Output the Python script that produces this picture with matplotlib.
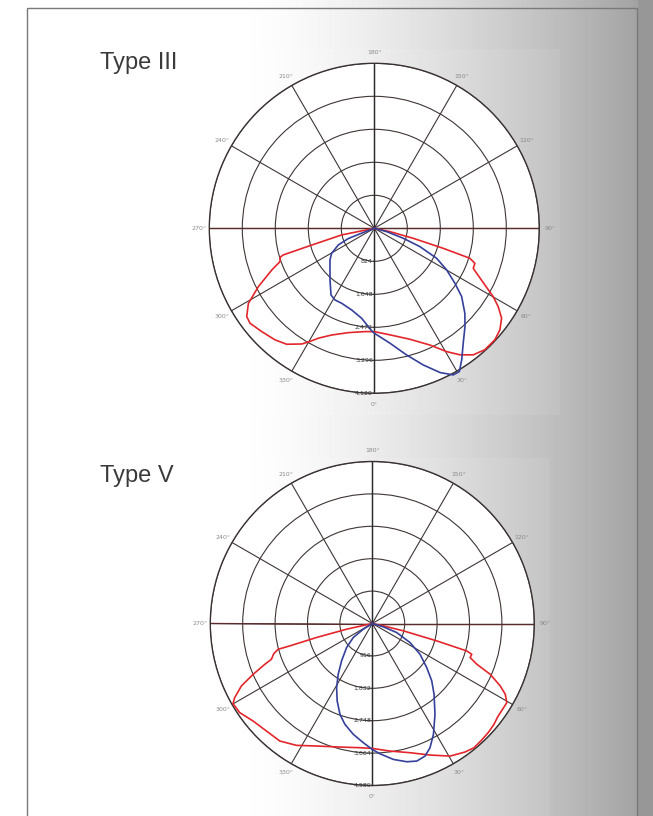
import numpy as np
import matplotlib.pyplot as plt
from matplotlib.patches import Rectangle

# angles as printed on the chart: 0 at the bottom, 90 on the right, 270 on the left
red3_deg = [280, 281.5, 285, 286.3, 287.1, 289.5, 292.1, 296.7, 300.8, 304.7,
            307.4, 312.5, 318.3, 322.9, 327.9, 330.4, 333, 338.2, 346, 354.8,
            0, 8.4, 17.8, 25.5, 30.4, 34.1, 38, 42.3, 47.2, 51,
            54.8, 57.7, 60.1, 62.9, 66.3, 68, 70.8, 72.6, 73.8, 75.6, 78, 80]
red3_cd = [0, 830, 1620, 2370, 2460, 2500, 2760, 3240, 3660, 3875,
           3905, 3815, 3730, 3630, 3410, 3250, 3080, 2870, 2685, 2590,
           2580, 2690, 2910, 3230, 3570, 3815, 4010, 4100, 4100, 4035,
           3890, 3660, 3425, 3100, 2790, 2665, 2660, 2500, 1795, 1005, 400, 0]

blue3_deg = [290, 291, 291.5, 294.8, 300.4, 305.5, 319.4, 327, 331.2, 336.5,
             344.5, 352, 358.5, 0, 7.8, 14.3, 19.7, 24.5, 28.3, 30.7,
             33.6, 37.7, 42.7, 46.8, 52, 55.7, 60.1, 64.3, 68.1, 71, 74.9, 76]
blue3_cd = [0, 340, 695, 990, 1235, 1360, 1700, 1985, 2041, 2042,
            2116, 2269, 2560, 2620, 2897, 3264, 3624, 3958, 4158, 4160,
            3944, 3630, 3339, 3102, 2768, 2437, 2084, 1727, 1228, 766, 319, 0]

red5_deg = [282, 282.5, 284.1, 285.2, 285.3, 287, 289.5, 290.8, 293.1, 295.5,
            298.3, 299.9, 303.9, 309.3, 315.4, 321.8, 328.1, 335.5, 345.3, 354.3,
            0, 7.9, 16.3, 23.7, 30.4, 35.8, 39.3, 43, 46.8, 50.2,
            53.3, 56, 59.5, 62, 64, 66.7, 68.7, 70.8, 72.8, 73.8,
            74.9, 76.7, 78, 80]
red5_cd = [0, 745, 1626, 2416, 2760, 2912, 3025, 3250, 3663, 4100,
           4418, 4543, 4517, 4354, 4266, 4228, 4058, 3806, 3611, 3529,
           3531, 3641, 3806, 4062, 4346, 4480, 4540, 4520, 4500, 4470,
           4420, 4410, 4414, 4257, 4024, 3628, 3172, 2929, 2944, 2782,
           1887, 902, 318, 0]

blue5_deg = [300, 302.2, 306.4, 313.1, 320.6, 326.1, 330.9, 335.6, 340.4, 344.8,
             350.3, 355.7, 0, 3.4, 8.8, 14, 17.9, 21.7, 24.9, 28.9,
             34.6, 41.1, 46, 51, 57.2, 63.2, 69.7, 73.1, 75]
blue5_cd = [0, 301, 668, 995, 1368, 1728, 2075, 2404, 2726, 2954,
            3180, 3380, 3560, 3690, 3888, 4028, 4088, 4034, 3873, 3578,
            3121, 2656, 2337, 1980, 1605, 1195, 735, 326, 0]

rings3 = [824, 1648, 2472, 3296, 4120]
ring_labels3 = ['824', '1,648', '2,472', '3,296', '4,120']
rings5 = [916, 1832, 2748, 3664, 4580]
ring_labels5 = ['916', '1,832', '2,748', '3,664', '4,580']
angle_ticks = list(range(0, 360, 30))

W, H = 653, 816
fig = plt.figure(figsize=(W / 100, H / 100), dpi=100)

# page background: white on the left fading to grey on the right
bg = fig.add_axes([0, 0, 1, 1])
x = np.arange(W)
t = np.clip((x - 230) / (637 - 230), 0, 1)
row = 1 - 0.36 * t ** 1.5
img = np.tile(row, (H, 1))
img[:, 638:] -= 0.05
yy = np.arange(H)[:, None]
xx = x[None, :]
light = (((yy > 48) & (yy < 415) & (xx > 190) & (xx < 560)) |
         ((yy > 457) & (yy < 830) & (xx > 190) & (xx < 550)))
img = np.where(light, 1 - 0.93 * (1 - img), img)
bg.imshow(img, extent=(0, W, H, 0), cmap='gray', vmin=0, vmax=1, aspect='auto')
bg.add_patch(Rectangle((27, 8), 610, 830, fill=False, ec='#7a7a7a', lw=1))
bg.set_xlim(0, W)
bg.set_ylim(H, 0)
bg.axis('off')

fig.text(100 / W, 1 - 69 / H, 'Type III', fontsize=17, color='#3a3a3a',
         family='Liberation Sans', va='baseline')
fig.text(100 / W, 1 - 482 / H, 'Type V', fontsize=17, color='#3a3a3a',
         family='Liberation Sans', va='baseline')


def to_rad(deg):
    deg = np.asarray(deg, dtype=float)
    return np.deg2rad(np.where(deg > 180, deg - 360, deg))


def polar_chart(rect, rings, ring_labels, red_deg, red_cd, blue_deg, blue_cd):
    ax = fig.add_axes(rect, projection='polar')
    ax.set_zorder(2)
    ax.set_theta_zero_location('S')
    ax.set_theta_direction(1)
    rmax = rings[-1]
    ax.set_ylim(0, rmax)
    ax.set_yticks(rings)
    ax.set_yticklabels([])
    ax.set_xticks(np.deg2rad(angle_ticks))
    ax.set_xticklabels([])
    ax.grid(True, color='#3f3535', lw=0.8)
    ax.spines['polar'].set_color('#3a3232')
    ax.spines['polar'].set_linewidth(1.0)
    ax.set_facecolor('white')
    for a, c in [(90, '#5a2c2c'), (270, '#5a2c2c'), (0, '#2a2a2a'), (180, '#2a2a2a')]:
        ax.plot([np.deg2rad(a)] * 2, [0, rmax], color=c, lw=1.0, zorder=2)
    for a in angle_ticks:
        ax.text(np.deg2rad(a), rmax * 1.065, f'{a}°', ha='center', va='center',
                fontsize=4.5, color='#8a8a8a', clip_on=False)
    for r, lbl in zip(rings, ring_labels):
        ax.annotate(lbl, xy=(0, r), xytext=(-1, 0), textcoords='offset points',
                    ha='right', va='center', fontsize=4.5, color='#333333',
                    annotation_clip=False, zorder=5)
    ax.plot(to_rad(red_deg), red_cd, color='#e3262b', lw=1.2, zorder=4, clip_on=False)
    ax.plot(to_rad(blue_deg), blue_cd, color='#34409a', lw=1.2, zorder=4, clip_on=False)
    return ax


polar_chart([(374.3 - 165) / W, (H - 228.3 - 165) / H, 330 / W, 330 / H],
            rings3, ring_labels3, red3_deg, red3_cd, blue3_deg, blue3_cd)
polar_chart([(372.3 - 162) / W, (H - 623.5 - 162) / H, 324 / W, 324 / H],
            rings5, ring_labels5, red5_deg, red5_cd, blue5_deg, blue5_cd)

fig.savefig('out.png', dpi=100)
